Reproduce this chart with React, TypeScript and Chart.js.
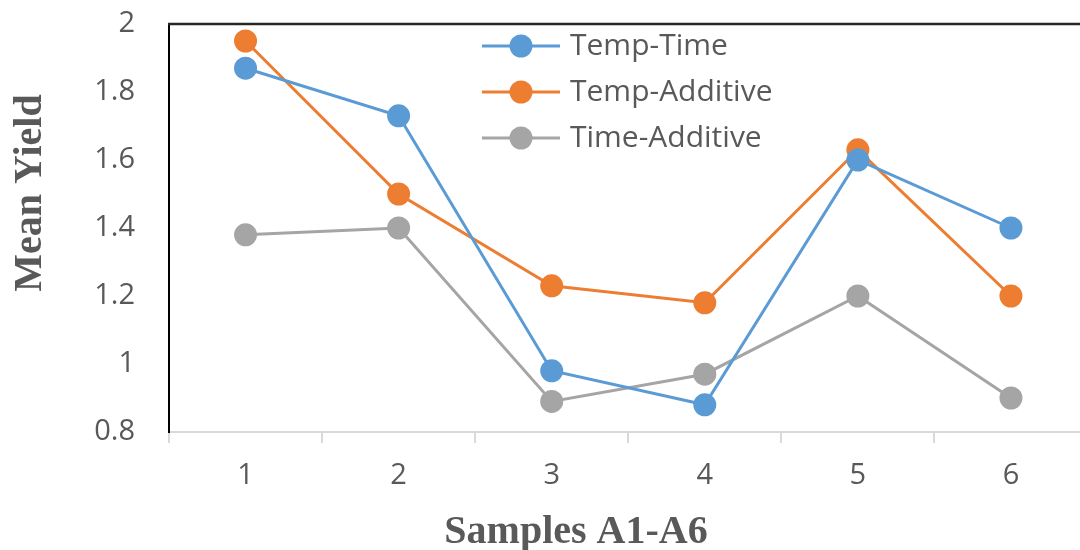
import { useEffect, useRef } from "react";
import { Chart, registerables } from "chart.js";

Chart.register(...registerables);

const categories = ["1", "2", "3", "4", "5", "6"];
const tempTime = [1.87, 1.73, 0.98, 0.88, 1.6, 1.4];
const tempAdditive = [1.95, 1.5, 1.23, 1.18, 1.63, 1.2];
const timeAdditive = [1.38, 1.4, 0.89, 0.97, 1.2, 0.9];
const seriesNames = ["Temp-Time", "Temp-Additive", "Time-Additive"];
const seriesColors = ["#5B9BD5", "#ED7D31", "#A5A5A5"];
const yTitle = "Mean Yield";
const xTitle = "Samples A1-A6";

const TICK_FONT = "'Open Sans', 'Noto Sans', sans-serif";
const TITLE_FONT = "'Liberation Serif', 'DejaVu Serif', serif";

const decorPlugin = {
  id: "decor",
  afterDraw(chart: any) {
    const ctx = chart.ctx;
    const { left, top, right } = chart.chartArea;
    ctx.save();
    // top border
    ctx.strokeStyle = "#262626";
    ctx.lineWidth = 2.5;
    ctx.beginPath();
    ctx.moveTo(left - 1, top);
    ctx.lineTo(right, top);
    ctx.stroke();

    // legend
    const lx = 482;
    const rows = [46, 92, 138];
    chart.data.datasets.forEach((ds: any, i: number) => {
      const y = rows[i];
      ctx.strokeStyle = ds.borderColor;
      ctx.lineWidth = 3;
      ctx.beginPath();
      ctx.moveTo(lx, y);
      ctx.lineTo(lx + 78, y);
      ctx.stroke();
      ctx.fillStyle = ds.backgroundColor;
      ctx.beginPath();
      ctx.arc(lx + 39, y, 11.5, 0, Math.PI * 2);
      ctx.fill();
      ctx.fillStyle = "#595959";
      ctx.font = `30px ${TICK_FONT}`;
      ctx.textAlign = "left";
      ctx.textBaseline = "middle";
      ctx.fillText(ds.label, lx + 88, y);
    });

    // axis titles
    ctx.fillStyle = "#595959";
    ctx.font = `bold 40px ${TITLE_FONT}`;
    ctx.textAlign = "center";
    ctx.textBaseline = "alphabetic";
    ctx.fillText(xTitle, 576, 543);
    ctx.translate(41, 193);
    ctx.rotate(-Math.PI / 2);
    ctx.fillText(yTitle, 0, 0);
    ctx.restore();
  },
};

export default function App() {
  const ref = useRef<HTMLCanvasElement | null>(null);

  useEffect(() => {
    if (!ref.current) return;
    const series = [tempTime, tempAdditive, timeAdditive];
    const chart = new Chart(ref.current, {
      type: "line",
      data: {
        labels: categories,
        datasets: series.map((d, i) => ({
          label: seriesNames[i],
          data: d,
          borderColor: seriesColors[i],
          backgroundColor: seriesColors[i],
          borderWidth: 3,
          pointRadius: 10.5,
          pointBorderWidth: 2,
          pointBackgroundColor: seriesColors[i],
          pointBorderColor: seriesColors[i],
          tension: 0,
        })),
      },
      options: {
        animation: false,
        responsive: false,
        devicePixelRatio: 1,
        layout: { padding: { top: 24, right: 9, left: 0, bottom: 0 } },
        plugins: {
          legend: { display: false },
          tooltip: { enabled: false },
        },
        scales: {
          x: {
            offset: true,
            grid: {
              display: true,
              drawOnChartArea: false,
              drawTicks: true,
              tickLength: 11,
              color: "#D9D9D9",
              lineWidth: 2,
              offset: true,
            },
            border: { display: true, color: "#D9D9D9", width: 2 },
            ticks: {
              color: "#595959",
              font: { family: TICK_FONT, size: 29 },
              padding: 15,
              maxRotation: 0,
            },
            afterFit(scale: any) {
              scale.height = 118;
              scale.paddingLeft = 0;
              scale.paddingRight = 0;
            },
          },
          y: {
            min: 0.8,
            max: 2,
            grid: { display: false, drawTicks: false },
            border: { display: true, color: "#000000", width: 2 },
            ticks: {
              stepSize: 0.2,
              color: "#595959",
              font: { family: TICK_FONT, size: 29 },
              padding: 34,
              callback: (v: any) => String(Math.round(Number(v) * 10) / 10),
            },
            afterFit(scale: any) {
              scale.width = 169;
              scale.paddingTop = 0;
              scale.paddingBottom = 0;
            },
          },
        },
      },
      plugins: [decorPlugin],
    });
    return () => chart.destroy();
  }, []);

  return (
    <div style={{ position: "fixed", left: 0, top: 0, width: 1100, height: 550, background: "#fff" }}>
      <canvas ref={ref} width={1100} height={550} style={{ display: "block" }} />
    </div>
  );
}
